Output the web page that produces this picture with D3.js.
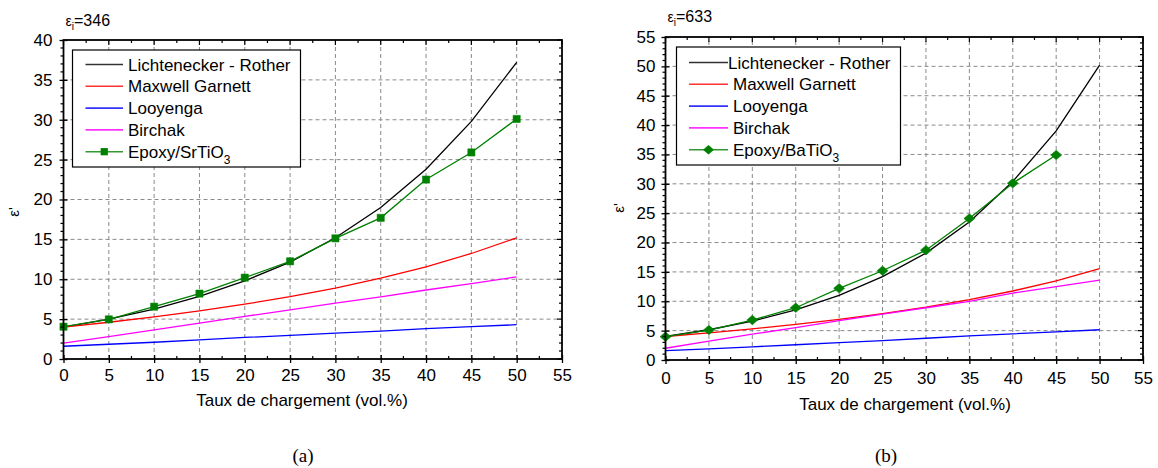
<!DOCTYPE html>
<html><head><meta charset="utf-8">
<script src="https://cdn.jsdelivr.net/npm/d3@7"></script>
<style>
body{margin:0;background:#fff;}
svg{display:block;font-family:"Liberation Sans",Arial,sans-serif;}
</style></head>
<body><svg id="c" width="1158" height="468"></svg>
<script>
// ---------- data ----------
const loadings = [0,5,10,15,20,25,30,35,40,45,50];
const loadingsExpB = [0,5,10,15,20,25,30,35,40,45];
const xTicks = [0,5,10,15,20,25,30,35,40,45,50,55];
const yTicksA = [0,5,10,15,20,25,30,35,40];
const yTicksB = [0,5,10,15,20,25,30,35,40,45,50,55];

// (a) eps_i = 346, Epoxy/SrTiO3
const lrA  = [4.0,5.0,6.25,7.85,9.8,12.15,15.2,19.0,23.8,29.8,37.2];
const mgA  = [4.0,4.61,5.28,6.03,6.87,7.82,8.9,10.13,11.56,13.23,15.2];
const looA = [1.6,1.85,2.1,2.4,2.7,2.95,3.25,3.5,3.8,4.05,4.3];
const birA = [2.0,2.8,3.65,4.5,5.35,6.15,7.0,7.8,8.65,9.45,10.3];
const expA = [4.05,4.97,6.56,8.2,10.2,12.25,15.13,17.7,22.5,25.9,30.1];

// (b) eps_i = 633, Epoxy/BaTiO3
const lrB  = [4.0,5.15,6.6,8.55,11.0,14.2,18.2,23.5,30.4,39.0,50.2];
const mgB  = [4.0,4.62,5.31,6.07,6.93,7.9,9.0,10.28,11.75,13.49,15.56];
const looB = [1.6,1.9,2.25,2.6,2.95,3.3,3.7,4.1,4.45,4.8,5.15];
const birB = [2.0,3.2,4.4,5.5,6.7,7.8,8.9,10.0,11.4,12.5,13.6];
const expB = [3.97,5.1,6.8,8.9,12.2,15.2,18.7,24.1,30.1,34.9];

const seriesNames = ["Lichtenecker - Rother","Maxwell Garnett","Looyenga","Birchak"];
const seriesColors = ["#000000","#ff0000","#0000ff","#ff00ff"];
const expColor = "#008000";
const xTitle = "Taux de chargement (vol.%)";
const FONT = "'Liberation Sans',Arial,sans-serif";

const svg = d3.select("#c");

function panel(o){
  const g = svg.append("g");
  const x = d3.scaleLinear().domain([0,55]).range([o.x0,o.x1]);
  const y = d3.scaleLinear().domain([0,o.yMax]).range([o.y0,o.y1]);
  // grid
  g.append("g").selectAll("line").data(xTicks.filter(v=>v>0&&v<55)).join("line")
    .attr("x1",d=>x(d)).attr("x2",d=>x(d)).attr("y1",o.y0).attr("y2",o.y1)
    .attr("stroke","#8a8a8a").attr("stroke-width",1).attr("stroke-dasharray","4,3");
  g.append("g").selectAll("line").data(o.yTicks.filter(v=>v>0&&v<o.yMax)).join("line")
    .attr("y1",d=>y(d)).attr("y2",d=>y(d)).attr("x1",o.x0).attr("x2",o.x1)
    .attr("stroke","#8a8a8a").attr("stroke-width",1).attr("stroke-dasharray","4,3");

  // series lines
  const line = d3.line().x(d=>x(d[0])).y(d=>y(d[1]));
  o.curves.forEach((vals,i)=>{
    g.append("path").datum(loadings.map((l,k)=>[l,vals[k]]))
      .attr("d",line).attr("fill","none").attr("stroke",seriesColors[i]).attr("stroke-width",1.3);
  });
  const expData = o.expX.map((l,k)=>[l,o.exp[k]]);
  g.append("path").datum(expData).attr("d",line).attr("fill","none")
    .attr("stroke",expColor).attr("stroke-width",1.3);
  const sym = d3.symbol().type(o.marker==="square"?d3.symbolSquare:d3.symbolDiamond2).size(o.marker==="square"?52:58);
  g.append("g").selectAll("path").data(expData).join("path")
    .attr("transform",d=>`translate(${x(d[0])},${y(d[1])})${o.marker==="square"?"":" scale(1.15,1)"}`)
    .attr("d",sym).attr("fill",expColor).attr("stroke",expColor).attr("stroke-width",0.5);

  // axes: bottom
  const ax = g.append("g").attr("transform",`translate(0,${o.y0})`)
    .call(d3.axisBottom(x).tickValues(xTicks).tickSize(4).tickSizeOuter(0).tickPadding(o.xPad))
    .attr("font-family",FONT).attr("font-size",17);
  ax.select(".domain").remove();
  ax.selectAll(".tick line").attr("y1",-4).attr("stroke-width",1.3);
  ax.selectAll("text").attr("fill","#000");
  // left
  const ay = g.append("g").attr("transform",`translate(${o.x0},0)`)
    .call(d3.axisLeft(y).tickValues(o.yTicks).tickSize(4).tickSizeOuter(0).tickPadding(o.yPad))
    .attr("font-family",FONT).attr("font-size",17);
  ay.select(".domain").remove();
  ay.selectAll(".tick line").attr("x1",4).attr("stroke-width",1.3);
  ay.selectAll("text").attr("fill","#000");
  // minor ticks
  const minorX = d3.range(2.5,55,5);
  const minorY = d3.range(0,o.yMax+0.01,1).filter(v=>v%5!==0);
  const tk = g.append("g").attr("stroke","#000").attr("stroke-width",1.2);
  tk.selectAll(".mb").data(minorX).join("line").attr("x1",d=>x(d)).attr("x2",d=>x(d)).attr("y1",o.y0).attr("y2",o.y0-3);
  tk.selectAll(".mt").data(minorX).join("line").attr("x1",d=>x(d)).attr("x2",d=>x(d)).attr("y1",o.y1).attr("y2",o.y1+3);
  tk.selectAll(".Mt").data(xTicks).join("line").attr("x1",d=>x(d)).attr("x2",d=>x(d)).attr("y1",o.y1).attr("y2",o.y1+5);
  tk.selectAll(".ml").data(minorY).join("line").attr("y1",d=>y(d)).attr("y2",d=>y(d)).attr("x1",o.x0).attr("x2",o.x0-3);
  tk.selectAll(".mr").data(minorY).join("line").attr("y1",d=>y(d)).attr("y2",d=>y(d)).attr("x1",o.x1).attr("x2",o.x1-3);
  tk.selectAll(".Mr").data(o.yTicks).join("line").attr("y1",d=>y(d)).attr("y2",d=>y(d)).attr("x1",o.x1).attr("x2",o.x1-5);
  // frame
  g.append("rect").attr("x",o.x0).attr("y",o.y1).attr("width",o.x1-o.x0).attr("height",o.y0-o.y1)
    .attr("fill","none").attr("stroke","#000").attr("stroke-width",1.8);

  // title eps_i
  const t = g.append("text").attr("x",o.x0+2).attr("y",o.titleY).attr("font-size",16).attr("fill","#000");
  t.append("tspan").attr("font-size",14).text("ε");
  t.append("tspan").attr("font-size",10).attr("dy",4).text("i");
  t.append("tspan").attr("dy",-4).text("=" + o.epsI);

  // y label
  g.append("text").attr("transform",`translate(${o.yLabX},${o.yLabY}) rotate(-90)`)
    .attr("text-anchor","middle").attr("font-size",15).attr("fill","#000").text("ε'");
  // x title
  g.append("text").attr("x",o.xTitleX).attr("y",o.xTitleY).attr("text-anchor","middle")
    .attr("font-size",17).attr("fill","#000").text(xTitle);
  // caption
  g.append("text").attr("x",o.capX).attr("y",462).attr("text-anchor","middle")
    .attr("font-family","'Liberation Serif','Times New Roman',serif").attr("font-size",19).attr("fill","#000").text(o.cap);

  // legend
  const L = o.leg;
  g.append("rect").attr("x",L.x).attr("y",L.y).attr("width",L.w).attr("height",L.h)
    .attr("fill","#fff").attr("stroke","#000").attr("stroke-width",1.2);
  const names = seriesNames.concat([o.expName]);
  names.forEach((nm,i)=>{
    const cy = L.y + L.r0 + i*L.dy;
    const col = i<4?seriesColors[i]:expColor;
    g.append("line").attr("x1",L.lx0).attr("x2",L.lx1).attr("y1",cy).attr("y2",cy)
      .attr("stroke",col).attr("stroke-width",1.6).attr("opacity",0.8);
    if(i===4){
      g.append("path").attr("transform",`translate(${(L.lx0+L.lx1)/2},${cy})${o.marker==="square"?"":" scale(1.15,1)"}`)
        .attr("d",sym).attr("fill",expColor);
    }
    const tx = g.append("text").attr("x",i===0?L.tx0:L.tx).attr("y",cy+6).attr("font-size",17).attr("fill","#000");
    if(i<4) tx.text(nm);
    else { tx.append("tspan").text(nm); tx.append("tspan").attr("font-size",12).attr("dy",6).text("3"); }
  });
}

panel({x0:63.5,x1:562,y0:359,y1:40,yMax:40,yTicks:yTicksA,
  curves:[lrA,mgA,looA,birA],exp:expA,expX:loadings,marker:"square",
  epsI:"346",titleY:26,yLabX:19,yLabY:212,xTitleX:302,xTitleY:406,capX:303,cap:"(a)",
  xPad:6,yPad:7,expName:"Epoxy/SrTiO",
  leg:{x:72.5,y:50,w:228,h:117,r0:14.5,dy:21.8,lx0:85.5,lx1:123,tx0:128,tx:128}});

panel({x0:665.5,x1:1143,y0:360,y1:37,yMax:55,yTicks:yTicksB,
  curves:[lrB,mgB,looB,birB],exp:expB,expX:loadingsExpB,marker:"diamond",
  epsI:"633",titleY:22,yLabX:624,yLabY:208,xTitleX:905,xTitleY:410,capX:886,cap:"(b)",
  xPad:8,yPad:6,expName:"Epoxy/BaTiO",
  leg:{x:676.5,y:47,w:224,h:118,r0:15.5,dy:21.8,lx0:689,lx1:728,tx0:728,tx:733}});
</script></body></html>
